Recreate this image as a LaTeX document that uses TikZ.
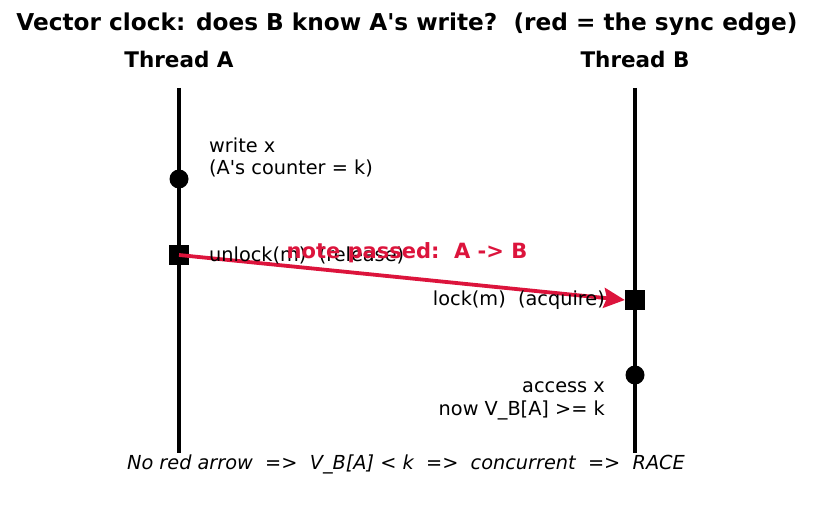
\documentclass[tikz,border=0pt]{standalone}
\usepackage{fontspec}
\setmainfont{DejaVu Sans}[Ligatures=TeXOff]
\usetikzlibrary{arrows.meta}
\definecolor{sync}{HTML}{DC143C}
\begin{document}
\begin{tikzpicture}[x=1pt,y=-1pt,
  lifeline/.style={line width=4pt,black},
  evdot/.style={circle,fill=black,minimum size=19pt,inner sep=0pt},
  evsq/.style={rectangle,fill=black,minimum size=20pt,inner sep=0pt},
  lbl/.style={font=\fontsize{19.3}{22.5}\selectfont,inner sep=0pt,align=left},
  lblr/.style={font=\fontsize{19.3}{22.5}\selectfont,inner sep=0pt,align=right},
  head/.style={font=\bfseries\fontsize{21.5}{24}\selectfont,inner sep=0pt}]
\useasboundingbox (0,0) rectangle (813,510);
\node[font=\bfseries\fontsize{23.2}{26}\selectfont,inner sep=0pt] (title) at (407,24) {Vector clock: does B know A's write?\ \ (red = the sync edge)};
\node[head] (ha) at (179,59) {Thread A};
\node[head] (hb) at (635,59) {Thread B};
\coordinate (atop) at (179,88);
\coordinate (abot) at (179,453);
\coordinate (btop) at (635,88);
\coordinate (bbot) at (635,453);
\draw[lifeline] (atop) -- (abot);
\draw[lifeline] (btop) -- (bbot);
\node[evdot] (w) at (179,179) {};
\node[evsq] (ul) at (179,255) {};
\node[evsq] (lk) at (635,300) {};
\node[evdot] (ac) at (635,375) {};
\draw[sync,line width=3.8pt,-{Stealth[length=21pt,width=20pt,inset=3pt]}] (ul.center) -- (lk.west);
\node[lbl,anchor=west] (wl) at (209,157.5) {write x\\(A's counter = k)};
\node[lbl,anchor=west] (ull) at (209,255) {unlock(m)\ \ (release)};
\node[font=\bfseries\fontsize{21}{24}\selectfont,text=sync,inner sep=0pt] (np) at (407,253) {note passed:\ \ A -> B};
\node[lblr,anchor=east] (lkl) at (605,300) {lock(m)\ \ (acquire)};
\node[lblr,anchor=east] (acl) at (605,401) {access x\\now V\_B[A] >= k};
\node[font=\itshape\fontsize{19.3}{22}\selectfont,inner sep=0pt] (foot) at (406,464) {No red arrow\ \ =>\ \ V\_B[A] < k\ \ =>\ \ concurrent\ \ =>\ \ RACE};
\end{tikzpicture}
\end{document}
